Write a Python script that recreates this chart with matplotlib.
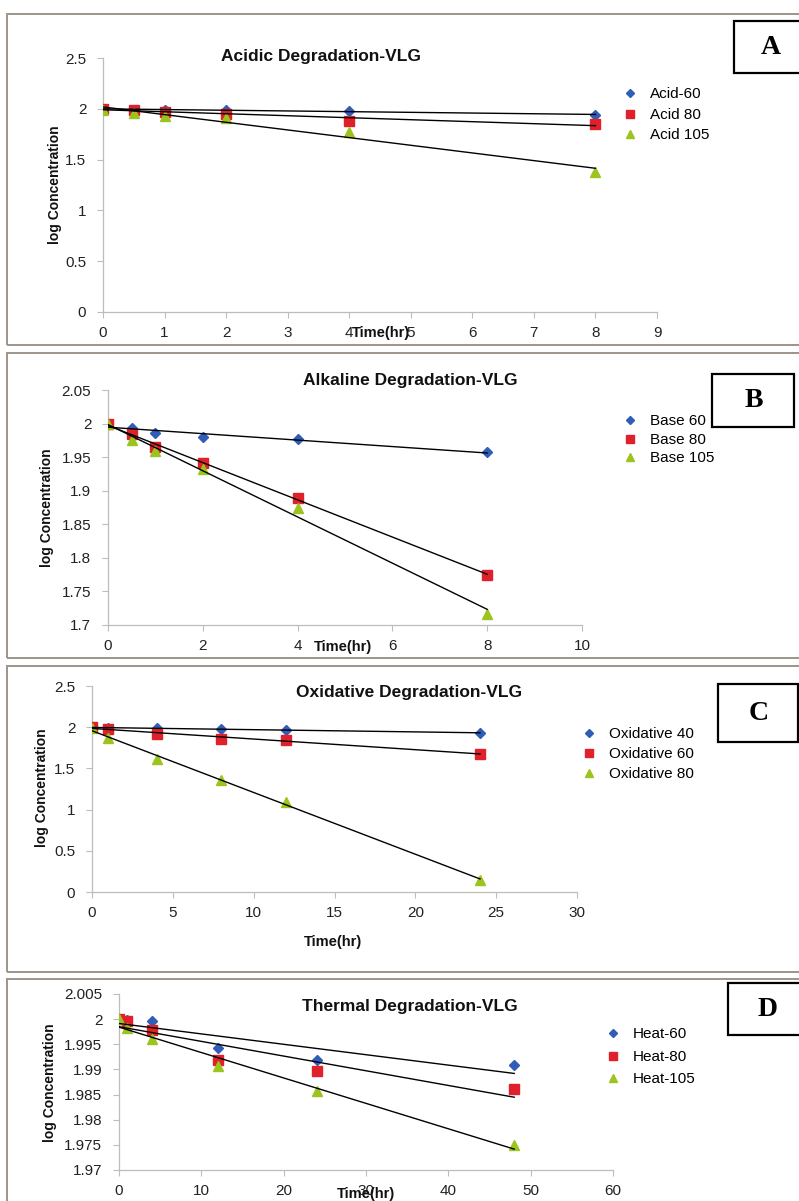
import matplotlib
matplotlib.use("Agg")
import matplotlib.pyplot as plt
from matplotlib.patches import Rectangle
import numpy as np

plt.rcParams['font.family'] = ['Liberation Sans', 'DejaVu Sans']

W, H = 799, 1201

# ---- data ----
acid_time = [0, 0.5, 1, 2, 4, 8]
acid_60 = [2.00, 1.99, 1.99, 1.99, 1.98, 1.94]
acid_80 = [2.00, 1.99, 1.97, 1.95, 1.88, 1.85]
acid_105 = [1.99, 1.96, 1.93, 1.91, 1.77, 1.38]
acid_labels = ["Acid-60", "Acid 80", "Acid 105"]
acid_xticks = [0, 1, 2, 3, 4, 5, 6, 7, 8, 9]
acid_yticks = [0, 0.5, 1, 1.5, 2, 2.5]

base_time = [0, 0.5, 1, 2, 4, 8]
base_60 = [2.000, 1.993, 1.986, 1.980, 1.977, 1.957]
base_80 = [2.000, 1.984, 1.965, 1.941, 1.889, 1.775]
base_105 = [2.000, 1.975, 1.959, 1.933, 1.874, 1.717]
base_labels = ["Base 60", "Base 80", "Base 105"]
base_xticks = [0, 2, 4, 6, 8, 10]
base_yticks = [1.7, 1.75, 1.8, 1.85, 1.9, 1.95, 2.0, 2.05]

ox_time = [0, 1, 4, 8, 12, 24]
ox_40 = [2.00, 1.99, 1.985, 1.975, 1.97, 1.93]
ox_60 = [2.00, 1.98, 1.92, 1.86, 1.84, 1.68]
ox_80 = [1.99, 1.87, 1.61, 1.36, 1.09, 0.15]
ox_labels = ["Oxidative 40", "Oxidative 60", "Oxidative 80"]
ox_xticks = [0, 5, 10, 15, 20, 25, 30]
ox_yticks = [0, 0.5, 1, 1.5, 2, 2.5]

heat_time = [0, 1, 4, 12, 24, 48]
heat_60 = [2.0000, 1.9998, 1.9996, 1.9943, 1.9919, 1.9908]
heat_80 = [2.0000, 1.9996, 1.9978, 1.9918, 1.9897, 1.9861]
heat_105 = [2.0000, 1.9982, 1.9961, 1.9906, 1.9857, 1.9749]
heat_labels = ["Heat-60", "Heat-80", "Heat-105"]
heat_xticks = [0, 10, 20, 30, 40, 50, 60]
heat_yticks = [1.97, 1.975, 1.98, 1.985, 1.99, 1.995, 2.0, 2.005]

colors = ["#2f5db8", "#e0202a", "#9cc41e"]
markers = ["D", "s", "^"]
msizes = [5.5, 7, 7.5]


def fx(px):
    return px / W


def fy(py):
    return 1 - py / H


fig = plt.figure(figsize=(W / 100, H / 100), dpi=100)
fig.patch.set_facecolor("white")

# outer panel frames
for top, bottom in [(14, 345), (353, 658), (666, 972), (979, 1210)]:
    fig.add_artist(Rectangle((fx(7), fy(bottom)), fx(810) - fx(7), (bottom - top) / H,
                             transform=fig.transFigure, fill=False,
                             edgecolor="#9d948a", lw=1.4))


def panel(box, t, series, labels, xticks, yticks, title, title_xy,
          leg_xy, leg_space, letter, letter_box, ylab_xy, xlab_xy):
    left, top, right, bottom = box
    ax = fig.add_axes([fx(left), fy(bottom), (right - left) / W, (bottom - top) / H])
    ax.set_facecolor("none")
    for k, ys in enumerate(series):
        ax.plot(t, ys, linestyle="none", marker=markers[k], ms=msizes[k],
                color=colors[k], mec=colors[k], label=labels[k], zorder=3)
        slope, icpt = np.polyfit(t, ys, 1)
        tt = np.array([min(t), max(t)])
        ax.plot(tt, icpt + slope * tt, color="black", lw=1.0, zorder=4)
    ax.set_xlim(xticks[0], xticks[-1])
    ax.set_ylim(yticks[0], yticks[-1])
    ax.set_xticks(xticks)
    ax.set_xticklabels([f"{v:g}" for v in xticks])
    ax.set_yticks(yticks)
    ax.set_yticklabels([f"{v:g}" for v in yticks])
    for s in ["top", "right"]:
        ax.spines[s].set_visible(False)
    for s in ["left", "bottom"]:
        ax.spines[s].set_color("#c0bcb8")
        ax.spines[s].set_linewidth(0.9)
    ax.tick_params(axis="both", direction="out", length=4, width=0.8,
                   color="#c0bcb8", labelsize=11, labelcolor="#222222")
    ax.tick_params(axis="x", pad=6)
    ax.tick_params(axis="y", pad=8)

    fs = 11 * 100 / 72
    handle_len = 1.0
    ax.legend(loc="upper left",
              bbox_to_anchor=(fx(leg_xy[0] - handle_len * fs / 2), fy(leg_xy[1] - 5.5)),
              bbox_transform=fig.transFigure, frameon=False, fontsize=11,
              handlelength=handle_len, handletextpad=0.8, labelspacing=leg_space,
              borderpad=0, borderaxespad=0, markerscale=0.8)

    fig.text(fx(title_xy[0]), fy(title_xy[1]), title, ha="center", va="center",
             fontsize=12.5, fontweight="bold", color="#111111")
    fig.text(fx(ylab_xy[0]), fy(ylab_xy[1]), "log Concentration", rotation=90,
             ha="center", va="center", fontsize=10, fontweight="bold", color="#111111")
    fig.text(fx(xlab_xy[0]), fy(xlab_xy[1]), "Time(hr)", ha="center", va="center",
             fontsize=10.5, fontweight="bold", color="#111111")

    bl, bt, br, bb = letter_box
    fig.add_artist(Rectangle((fx(bl), fy(bb)), (br - bl) / W, (bb - bt) / H,
                             transform=fig.transFigure, facecolor="white",
                             edgecolor="black", lw=1.6, zorder=5))
    fig.text(fx((bl + br) / 2 + 1), fy((bt + bb) / 2), letter, ha="center", va="center",
             fontsize=20, fontweight="bold", family="Liberation Serif", zorder=6)
    return ax


panel((103, 58, 657, 312), acid_time, [acid_60, acid_80, acid_105], acid_labels,
      acid_xticks, acid_yticks, "Acidic Degradation-VLG", (321, 57),
      (630, 93), 0.42, "A", (734, 21, 805, 73), (55, 185), (381, 333))

panel((108, 390, 582, 625), base_time, [base_60, base_80, base_105], base_labels,
      base_xticks, base_yticks, "Alkaline Degradation-VLG", (410, 380),
      (630, 420), 0.29, "B", (712, 374, 794, 427), (47, 508), (343, 647))

panel((92, 686, 577, 892), ox_time, [ox_40, ox_60, ox_80], ox_labels,
      ox_xticks, ox_yticks, "Oxidative Degradation-VLG", (409, 692),
      (589, 733), 0.39, "C", (718, 684, 798, 742), (42, 788), (333, 942))

panel((119, 994, 613, 1170), heat_time, [heat_60, heat_80, heat_105], heat_labels,
      heat_xticks, heat_yticks, "Thermal Degradation-VLG", (410, 1006),
      (613, 1033), 0.55, "D", (728, 983, 805, 1035), (50, 1083), (366, 1194))

fig.savefig("out.png", dpi=100, facecolor="white")
